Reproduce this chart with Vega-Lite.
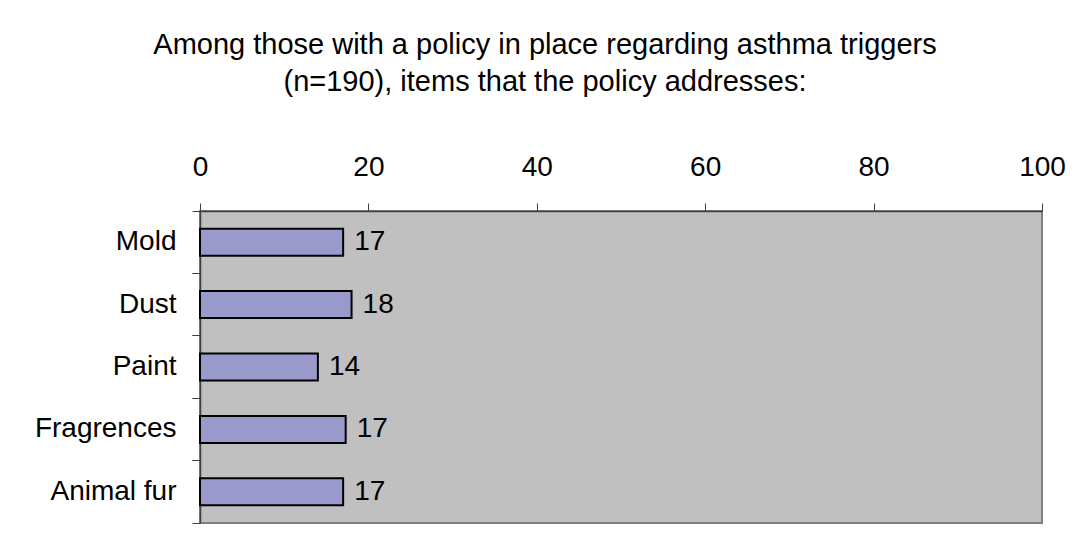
{
  "$schema": "https://vega.github.io/schema/vega-lite/v6.json",
  "width": 842,
  "height": 312,
  "autosize": {"type": "none"},
  "padding": {"left": 200, "top": 211, "right": 39, "bottom": 22},
  "background": "white",
  "config": {
    "font": "Liberation Sans",
    "view": {"fill": "#C0C0C0", "stroke": "#808080", "strokeWidth": 2}
  },
  "title": {
    "text": ["Among those with a policy in place regarding asthma triggers", "(n=190), items that the policy addresses:"],
    "anchor": "middle",
    "frame": "group",
    "fontSize": 29,
    "fontWeight": "normal",
    "color": "black",
    "lineHeight": 37,
    "dx": -76,
    "offset": 56
  },
  "data": {
    "values": [
      {"item": "Mold", "pct": 17},
      {"item": "Dust", "pct": 18},
      {"item": "Paint", "pct": 14},
      {"item": "Fragrences", "pct": 17.3},
      {"item": "Animal fur", "pct": 17}
    ]
  },
  "resolve": {"axis": {"y": "independent"}},
  "layer": [
    {
      "mark": {"type": "bar", "fill": "#9999CC", "stroke": "black", "strokeWidth": 2, "size": 27},
      "encoding": {
        "y": {
          "field": "item", "type": "nominal", "sort": null, "title": null,
          "scale": {"paddingInner": 0, "paddingOuter": 0},
          "axis": {
            "orient": "left", "bandPosition": 0, "labelFontSize": 28, "labelColor": "black",
            "labelPadding": 16, "tickSize": 8, "tickColor": "#404040", "domainColor": "#404040",
            "domainWidth": 1.5
          }
        },
        "x": {
          "field": "pct", "type": "quantitative", "title": null,
          "scale": {"domain": [0, 100], "nice": false},
          "axis": {
            "orient": "top", "values": [0, 20, 40, 60, 80, 100], "labelFontSize": 28,
            "labelColor": "black", "labelBaseline": "alphabetic", "labelPadding": 28,
            "tickSize": 8, "tickColor": "#404040", "domainColor": "#404040", "domainWidth": 1.5,
            "grid": false, "labelFlush": false, "format": "d"
          }
        }
      }
    },
    {
      "mark": {"type": "text", "align": "left", "baseline": "middle", "dx": 11, "fontSize": 28, "color": "black"},
      "encoding": {
        "y": {
          "field": "item", "type": "nominal", "sort": null, "title": null,
          "axis": {
            "orient": "left", "bandPosition": 1, "labels": false, "domain": false,
            "tickSize": 8, "tickColor": "#404040"
          }
        },
        "x": {"field": "pct", "type": "quantitative"},
        "text": {"field": "pct", "type": "quantitative", "format": ".0f"}
      }
    }
  ]
}
